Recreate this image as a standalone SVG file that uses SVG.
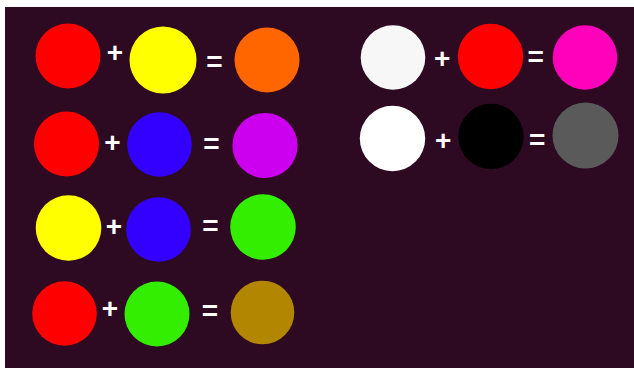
<svg xmlns="http://www.w3.org/2000/svg" width="634" height="368" viewBox="0 0 634 368">
<style>
.op{font-family:"Liberation Sans",Arial,sans-serif;font-weight:bold;font-size:28px;fill:#ffffff;text-anchor:middle}
</style>
<rect x="0" y="0" width="634" height="368" fill="#ffffff"/>
<rect x="5" y="7" width="629" height="361" fill="#2d0a22"/>
<g id="row1">
<circle cx="68" cy="56" r="32.5" fill="#ff0000"/>
<text class="op" x="115" y="62">+</text>
<circle cx="163" cy="60" r="33.5" fill="#ffff00"/>
<text class="op" x="214.5" y="70.5">=</text>
<circle cx="267" cy="60" r="32.5" fill="#ff6600"/>
</g>
<g id="row2">
<circle cx="66.5" cy="144" r="32.5" fill="#ff0000"/>
<text class="op" x="112.5" y="152.4">+</text>
<circle cx="159.5" cy="144.5" r="32.3" fill="#3300ff"/>
<text class="op" x="211.5" y="153">=</text>
<circle cx="265" cy="145.5" r="32.6" fill="#cc00ee"/>
</g>
<g id="row3">
<circle cx="68.5" cy="228" r="32.8" fill="#ffff00"/>
<text class="op" x="114" y="236">+</text>
<circle cx="158.5" cy="229.5" r="32.3" fill="#3300ff"/>
<text class="op" x="210.5" y="235.4">=</text>
<circle cx="263" cy="227" r="32.8" fill="#33ee00"/>
</g>
<g id="row4">
<circle cx="64.5" cy="313.5" r="32.3" fill="#ff0000"/>
<text class="op" x="110" y="317.7">+</text>
<circle cx="157" cy="314" r="32.5" fill="#33ee00"/>
<text class="op" x="210" y="319.7">=</text>
<circle cx="262.5" cy="312.5" r="31.8" fill="#b38600"/>
</g>
<g id="row5">
<circle cx="393" cy="57.5" r="32.3" fill="#f7f7f7"/>
<text class="op" x="442.3" y="68">+</text>
<circle cx="490.5" cy="56.5" r="32.7" fill="#ff0000"/>
<text class="op" x="535.7" y="65.7">=</text>
<circle cx="585" cy="57.5" r="32.3" fill="#ff00bb"/>
</g>
<g id="row6">
<circle cx="392.5" cy="138.5" r="32.7" fill="#ffffff"/>
<text class="op" x="443.3" y="149.7">+</text>
<circle cx="491" cy="136.5" r="32.7" fill="#000000"/>
<text class="op" x="537.3" y="149">=</text>
<circle cx="585.5" cy="135.5" r="33" fill="#5a5a5a"/>
</g>
</svg>
